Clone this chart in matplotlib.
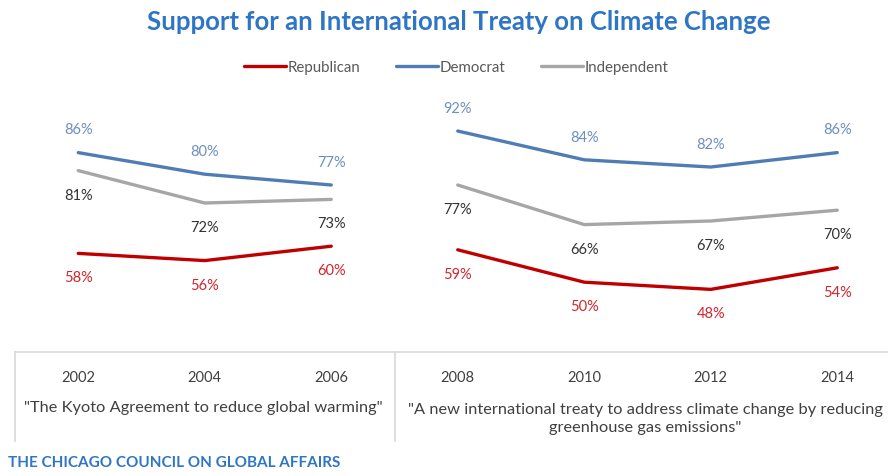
import matplotlib.pyplot as plt

# Datos
years = ['2002', '2004', '2006', '2008', '2010', '2012', '2014']
republican = [58, 56, 60, 59, 50, 48, 54]
democrat = [86, 80, 77, 92, 84, 82, 86]
independent = [81, 72, 73, 77, 66, 67, 70]
question_1 = '"The Kyoto Agreement to reduce global warming"'
question_2 = ('"A new international treaty to address climate change by reducing\n'
              'greenhouse gas emissions"')

plt.rcParams['font.family'] = ['Lato', 'DejaVu Sans']

fig = plt.figure(figsize=(8.88, 4.76), dpi=100)
ax = fig.add_axes([15 / 888, 124 / 476, 885.5 / 888, 262 / 476])

series = [
    ('Republican', republican, '#c00000', '#d0262e', -18),
    ('Democrat', democrat, '#4f7db3', '#6d8fc0', 16),
    ('Independent', independent, '#a6a6a6', '#333333', -18),
]

x = list(range(len(years)))
for name, vals, lc, tc, off in series:
    # dos periodos separados (dos preguntas distintas)
    ax.plot(x[:3], vals[:3], color=lc, lw=2.4, solid_capstyle='round', label=name)
    ax.plot(x[3:], vals[3:], color=lc, lw=2.4, solid_capstyle='round')
    for xi, v in zip(x, vals):
        ax.annotate(f'{v}%', (xi, v), xytext=(0, off), textcoords='offset points',
                    ha='center', va='center', fontsize=10.5, color=tc)

ax.set_xlim(-0.5, 6.5)
ax.set_ylim(30.6, 103.4)
ax.set_yticks([])
ax.set_xticks(x)
ax.set_xticklabels(years, fontsize=10.5, color='#404040')
ax.tick_params(axis='x', length=0, pad=14)
for s in ['top', 'right', 'left']:
    ax.spines[s].set_visible(False)
ax.spines['bottom'].set_color('#d9d9d9')
ax.spines['bottom'].set_linewidth(1.2)

# separadores verticales y preguntas
trans = ax.get_xaxis_transform()
for xs in [-0.5, 2.5]:
    ax.plot([xs, xs], [0, -0.34], transform=trans, color='#d9d9d9', lw=1.2, clip_on=False)
ax.text(0.99, -0.215, question_1, transform=trans, ha='center', va='center',
        fontsize=11.8, color='#404040')
ax.text(4.48, -0.255, question_2, transform=trans, ha='center', va='center',
        fontsize=11.8, color='#404040', linespacing=1.4)

# titulo, leyenda, fuente
fig.text(0.517, 0.953, 'Support for an International Treaty on Climate Change',
         ha='center', va='center', fontsize=18.5, fontweight='bold', color='#2f75c5')
fig.legend(loc='center', bbox_to_anchor=(0.514, 0.858), ncol=3, frameon=False,
           fontsize=10.8, handlelength=2.8, handletextpad=0.1, columnspacing=2.4,
           labelcolor='#595959')
fig.text(0.009, 0.028, 'THE CHICAGO COUNCIL ON GLOBAL AFFAIRS', ha='left', va='center',
         fontsize=11, fontweight='bold', color='#2f75c5')

plt.savefig('out.png', dpi=100)
